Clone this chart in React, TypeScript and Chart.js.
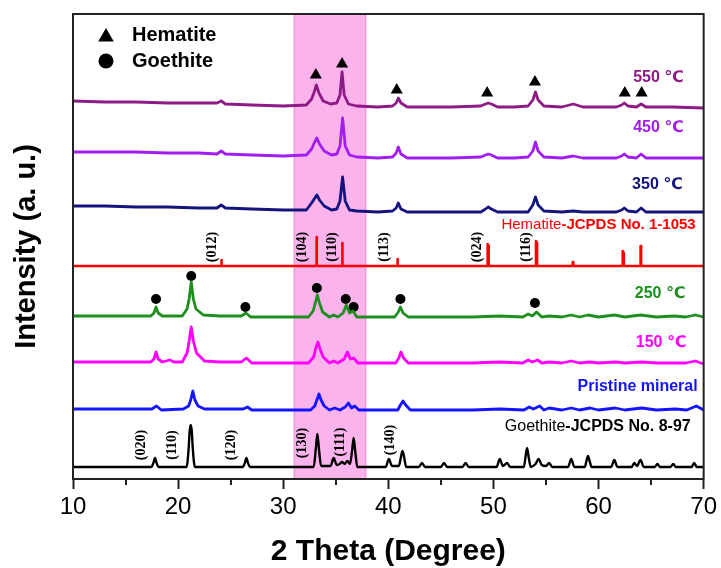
import React, { useEffect, useRef } from "react";
import { Chart, registerables } from "chart.js";
Chart.register(...registerables);

type Pt = [number, number];

// ---------- axis ----------
const xMin = 10;
const xMax = 70;
const xMajorStep = 10;
const minorTicks = [15, 25, 35, 45, 55, 65];
const yMin = 0;
const yMax = 465;
const band: Pt = [31.0, 37.9];

// ---------- series (2θ, stacked intensity a.u.) ----------
const trace550: Pt[] = [
  [10, 378], [13, 377], [16, 377], [19, 376], [22, 376], [23.7, 376], [24.1, 378], [24.5, 375], [27, 374], [30, 373],
  [32.2, 374], [32.7, 380], [32.95, 387], [33.15, 394], [33.4, 386], [33.8, 378], [34.5, 375], [35.1, 376], [35.4, 384],
  [35.6, 407], [35.8, 384], [36.2, 375], [37, 373], [39, 372], [40.4, 373], [40.75, 376], [40.95, 381], [41.2, 376],
  [41.8, 372], [44, 372], [46, 372], [48.8, 373], [49.25, 375], [49.5, 376], [49.8, 375], [50.4, 372], [52, 372],
  [53.3, 373], [53.75, 379], [54.0, 387], [54.25, 379], [54.8, 373], [56.5, 372], [57.6, 375], [58.5, 372], [61.7, 372],
  [62.2, 374], [62.45, 376], [62.8, 373], [63.6, 372], [64.05, 375], [64.5, 372], [67, 372], [70, 371],
];
const trace450: Pt[] = [
  [10, 327], [13, 327], [16, 327], [19, 326], [22, 326], [23.7, 325], [24.1, 328], [24.5, 325], [27, 324], [30, 323],
  [32.2, 324], [32.7, 330], [32.95, 336], [33.2, 341], [33.45, 335], [33.9, 328], [34.6, 324], [35.1, 325], [35.4, 333],
  [35.65, 361], [35.9, 333], [36.3, 324], [37, 322], [39, 321], [40.4, 322], [40.75, 326], [40.95, 332], [41.2, 325],
  [41.8, 321], [44, 321], [46, 321], [48.8, 322], [49.25, 324], [49.5, 325], [49.8, 324], [50.4, 321], [52, 321],
  [53.3, 322], [53.75, 328], [54.0, 337], [54.25, 328], [54.8, 322], [56.5, 321], [57.6, 323], [58.5, 321], [61.7, 321],
  [62.2, 323], [62.45, 325], [62.8, 322], [63.6, 321], [64.05, 325], [64.5, 321], [67, 321], [70, 321],
];
const trace350: Pt[] = [
  [10, 273], [13, 273], [16, 272], [19, 272], [22, 271], [23.7, 271], [24.1, 274], [24.5, 271], [27, 270], [30, 269],
  [32.2, 269], [32.7, 276], [32.95, 280], [33.2, 284], [33.45, 279], [33.9, 273], [34.6, 269], [35.1, 270], [35.4, 278],
  [35.65, 302], [35.9, 278], [36.3, 269], [37, 268], [39, 267], [40.4, 268], [40.75, 271], [40.95, 276], [41.2, 270],
  [41.8, 267], [44, 267], [46, 267], [48.8, 267], [49.25, 270], [49.5, 272], [49.8, 270], [50.4, 267], [52, 267],
  [53.3, 267], [53.75, 274], [54.0, 282], [54.25, 274], [54.8, 268], [56.5, 267], [57.6, 268], [58.5, 267], [61.7, 267],
  [62.2, 269], [62.45, 271], [62.8, 268], [63.6, 267], [64.05, 271], [64.5, 267], [67, 267], [70, 267],
];
const hematiteRef: Pt[] = [
  [10, 213], [24.1, 213], [24.1, 219], [24.15, 219], [24.15, 213], [33.15, 213], [33.15, 242], [33.2, 242], [33.2, 213],
  [35.6, 213], [35.6, 236], [35.65, 236], [35.65, 213], [40.85, 213], [40.85, 220], [40.9, 220], [40.9, 213],
  [49.45, 213], [49.45, 235], [49.55, 233], [49.55, 213], [54.05, 213], [54.05, 238], [54.15, 236], [54.15, 213],
  [57.55, 213], [57.55, 217], [57.6, 217], [57.6, 213], [62.3, 213], [62.3, 228], [62.4, 226], [62.4, 213],
  [64.0, 213], [64.0, 233], [64.05, 233], [64.05, 213], [70, 213],
];
const trace250: Pt[] = [
  [10, 163], [13, 163], [16, 163], [17.4, 163], [17.7, 166], [17.9, 172], [18.1, 166], [18.5, 163], [20.4, 163],
  [20.85, 170], [21.05, 180], [21.25, 197], [21.45, 180], [21.7, 170], [22.4, 164], [24, 163], [26.0, 163], [26.45, 166],
  [26.9, 162], [29, 162], [32.4, 162], [32.85, 168], [33.05, 176], [33.25, 184], [33.45, 176], [33.75, 167], [34.4, 162],
  [34.8, 164], [35.2, 162], [35.7, 166], [36.0, 174], [36.3, 166], [36.65, 168], [37.0, 162], [38, 162], [40.6, 162],
  [40.95, 167], [41.15, 172], [41.4, 166], [41.9, 162], [45, 162], [48, 162], [50.6, 163], [52.8, 162], [53.3, 165],
  [53.7, 163], [54.1, 167], [54.6, 162], [55.3, 163], [56.5, 162], [57.4, 164], [58.2, 162], [59.0, 164], [60, 162],
  [61.5, 164], [62.5, 162], [64.0, 164], [65.5, 162], [67.2, 163], [68.3, 162], [69.2, 164], [70, 162],
];
const trace150: Pt[] = [
  [10, 117], [13, 117], [16, 117], [17.4, 117], [17.7, 120], [17.9, 127], [18.1, 120], [18.5, 117], [19.2, 119],
  [19.6, 117], [20.4, 117], [20.85, 126], [21.05, 138], [21.25, 152], [21.45, 138], [21.75, 126], [22.5, 118], [24, 117],
  [26.0, 117], [26.5, 121], [27.0, 116], [29, 116], [32.4, 116], [32.9, 122], [33.1, 131], [33.3, 137], [33.5, 130],
  [33.8, 122], [34.4, 116], [34.8, 118], [35.2, 116], [35.8, 120], [36.1, 127], [36.4, 120], [36.7, 121], [37.1, 116],
  [38, 116], [40.7, 116], [41.0, 121], [41.2, 127], [41.45, 121], [41.9, 116], [45, 116], [48, 116], [50.6, 117],
  [52.8, 116], [53.3, 119], [53.7, 117], [54.2, 119], [54.6, 116], [55.3, 117], [56.5, 116], [57.4, 118], [58.2, 116],
  [59.2, 117], [60, 116], [61.6, 117], [62.5, 116], [64.1, 117], [65.5, 116], [67.2, 116], [68.3, 116], [69.2, 118], [70, 115],
];
const tracePristine: Pt[] = [
  [10, 70], [13, 70], [16, 70], [17.5, 70], [17.95, 73], [18.4, 69], [20.5, 70], [21.0, 73], [21.2, 79], [21.4, 88],
  [21.6, 79], [21.9, 73], [22.5, 70], [24, 70], [26.2, 70], [26.6, 72], [27.0, 69], [29, 69], [32.6, 69], [33.0, 73],
  [33.2, 79], [33.4, 85], [33.6, 79], [33.9, 73], [34.4, 69], [34.9, 71], [35.4, 69], [35.9, 72], [36.2, 76], [36.5, 71],
  [36.8, 73], [37.2, 69], [38, 69], [40.9, 69], [41.15, 74], [41.4, 78], [41.65, 74], [42.1, 69], [45, 69], [48, 69],
  [50.6, 70], [52.9, 69], [53.4, 72], [53.8, 70], [54.4, 73], [54.8, 69], [55.3, 71], [56.5, 69], [57.4, 71], [58.2, 69],
  [59.2, 71], [60, 69], [61.6, 71], [62.5, 69], [64.1, 71], [65.5, 69], [67.3, 70], [68.4, 69], [69.3, 73], [70, 69],
];
const goethiteRef: Pt[] = [
  [10, 12], [17.45, 12], [17.65, 16], [17.8, 21], [17.95, 16], [18.15, 12], [20.8, 12], [21.0, 30], [21.1, 48], [21.2, 54],
  [21.3, 48], [21.4, 30], [21.6, 12], [26.15, 12], [26.35, 16], [26.5, 21], [26.65, 16], [26.85, 12], [32.9, 12],
  [33.1, 30], [33.25, 45], [33.4, 30], [33.6, 13], [34.5, 13], [34.8, 21], [35.1, 14], [35.35, 15], [35.6, 17],
  [35.85, 15], [36.1, 18], [36.35, 15], [36.55, 28], [36.7, 41], [36.85, 28], [37.05, 12], [39.75, 12], [40.05, 20],
  [40.35, 13], [41.0, 13], [41.2, 22], [41.35, 28], [41.5, 22], [41.7, 12], [42.9, 12], [43.2, 16], [43.5, 12],
  [45.0, 12], [45.3, 16], [45.6, 12], [47.05, 12], [47.35, 16], [47.65, 12], [50.3, 12], [50.6, 20], [50.9, 13],
  [51.3, 16], [51.6, 12], [52.9, 12], [53.05, 22], [53.2, 31], [53.35, 22], [53.55, 12], [54.0, 15], [54.3, 20],
  [54.6, 14], [55.0, 13], [55.3, 16], [55.6, 12], [57.1, 12], [57.4, 20], [57.7, 12], [58.7, 12], [58.85, 18], [59.0, 23],
  [59.15, 18], [59.35, 12], [61.2, 12], [61.5, 19], [61.8, 12], [63.15, 12], [63.4, 16], [63.65, 13], [64.0, 19],
  [64.3, 12], [65.35, 12], [65.6, 15], [65.85, 12], [66.85, 12], [67.1, 15], [67.35, 12], [68.85, 12], [69.1, 16],
  [69.35, 12], [70, 12],
];

// ---------- phase markers ----------
const hematiteMarks: Pt[] = [
  [33.1, 404], [35.6, 415], [40.8, 389], [49.4, 386], [53.95, 397], [62.5, 386], [64.1, 386],
];
const goethiteMarks: Pt[] = [
  [17.9, 180], [21.25, 203], [26.4, 172], [33.2, 191], [35.95, 180], [36.7, 172], [41.15, 180], [53.95, 176],
];

// ---------- texts ----------
const legendNames = ["Hematite", "Goethite"];
// [regular part, bold part]
const seriesTexts: [string, string][] = [
  ["", "550 ℃"],
  ["", "450 ℃"],
  ["", "350 ℃"],
  ["Hematite", "-JCPDS No. 1-1053"],
  ["", "250 ℃"],
  ["", "150 ℃"],
  ["", "Pristine mineral"],
  ["Goethite", "-JCPDS No. 8-97"],
];
const seriesTextAnchors: Pt[] = [
  [68.1, 401], [68.1, 351], [68.0, 294], [69.24, 254], [68.25, 185], [68.35, 136], [69.43, 92], [68.77, 52],
];
const seriesColors = ["#8E1A86", "#A21EF0", "#14147E", "#FF0000", "#1E8E1E", "#FF00FF", "#1414FF", "#000000"];
const hematiteHkl = ["(012)", "(104)", "(110)", "(113)", "(024)", "(116)"];
const hematiteHklAnchors: Pt[] = [[23.27, 232], [31.8, 232], [34.64, 232], [39.67, 232], [48.48, 232], [53.13, 232]];
const goethiteHkl = ["(020)", "(110)", "(120)", "(130)", "(111)", "(140)"];
const goethiteHklAnchors: Pt[] = [[16.51, 34], [19.5, 34], [25.04, 34], [31.83, 36], [35.4, 37], [40.2, 39]];

const SANS = "'Liberation Sans', Arial, 'DejaVu Sans', sans-serif";
const SERIF = "'Liberation Serif', 'Times New Roman', serif";

const toXY = (p: Pt[]) => p.map(([x, y]) => ({ x, y }));

function drawTriangle(ctx: CanvasRenderingContext2D, x: number, y: number, r: number) {
  ctx.beginPath();
  for (let i = 0; i < 3; i++) {
    const a = (i * 2 * Math.PI) / 3;
    const px = x + Math.sin(a) * r;
    const py = y - Math.cos(a) * r;
    if (i === 0) ctx.moveTo(px, py);
    else ctx.lineTo(px, py);
  }
  ctx.closePath();
  ctx.fill();
}

const decorPlugin = {
  id: "decor",
  beforeDatasetsDraw(chart: any) {
    const { ctx, chartArea: a, scales } = chart;
    const x0 = scales.x.getPixelForValue(band[0]);
    const x1 = scales.x.getPixelForValue(band[1]);
    ctx.save();
    ctx.fillStyle = "#FBB3EB";
    ctx.fillRect(x0, a.top, x1 - x0, a.bottom - a.top);
    ctx.strokeStyle = "#EE8ADB";
    ctx.lineWidth = 1;
    ctx.beginPath();
    ctx.moveTo(x0 + 0.5, a.top);
    ctx.lineTo(x0 + 0.5, a.bottom);
    ctx.moveTo(x1 - 0.5, a.top);
    ctx.lineTo(x1 - 0.5, a.bottom);
    ctx.stroke();
    ctx.restore();
  },
  afterDatasetsDraw(chart: any) {
    const { ctx, chartArea: a, scales } = chart;
    const X = (v: number) => scales.x.getPixelForValue(v);
    const Y = (v: number) => scales.y.getPixelForValue(v);
    ctx.save();
    // legend
    ctx.fillStyle = "#000";
    drawTriangle(ctx, a.left + 33, a.top + 23, 9);
    ctx.beginPath();
    ctx.arc(a.left + 33, a.top + 47, 7.5, 0, Math.PI * 2);
    ctx.fill();
    ctx.font = `bold 20px ${SANS}`;
    ctx.textAlign = "left";
    ctx.textBaseline = "middle";
    ctx.fillText(legendNames[0], a.left + 59, a.top + 21);
    ctx.fillText(legendNames[1], a.left + 59, a.top + 47);

    // series labels
    seriesTexts.forEach(([reg, bold], i) => {
      const [ax, ay] = seriesTextAnchors[i];
      const size = i === 3 ? 15 : 16;
      const fReg = `${size}px ${SANS}`;
      const fBold = `bold ${size}px ${SANS}`;
      ctx.font = fReg;
      const wReg = reg ? ctx.measureText(reg).width : 0;
      ctx.font = fBold;
      const wBold = ctx.measureText(bold).width;
      const right = X(ax);
      const y = Y(ay);
      ctx.fillStyle = seriesColors[i];
      ctx.textAlign = "left";
      ctx.textBaseline = "middle";
      let sx = right - wReg - wBold;
      if (reg) {
        ctx.font = fReg;
        ctx.fillText(reg, sx, y);
        sx += wReg;
      }
      ctx.font = fBold;
      ctx.fillText(bold, sx, y);
    });

    // hkl labels
    ctx.fillStyle = "#000";
    ctx.font = `bold 14px ${SERIF}`;
    ctx.textAlign = "center";
    ctx.textBaseline = "middle";
    const drawRot = (t: string, p: Pt) => {
      ctx.save();
      ctx.translate(X(p[0]), Y(p[1]));
      ctx.rotate(-Math.PI / 2);
      ctx.fillText(t, 0, 0);
      ctx.restore();
    };
    hematiteHkl.forEach((t, i) => drawRot(t, hematiteHklAnchors[i]));
    goethiteHkl.forEach((t, i) => drawRot(t, goethiteHklAnchors[i]));
    ctx.restore();
  },
  afterDraw(chart: any) {
    const { ctx, chartArea: a, scales } = chart;
    ctx.save();
    ctx.strokeStyle = "#222";
    ctx.lineWidth = 2;
    ctx.strokeRect(a.left, a.top, a.right - a.left, a.bottom - a.top);
    ctx.beginPath();
    minorTicks.forEach((v) => {
      const px = Math.round(scales.x.getPixelForValue(v));
      ctx.moveTo(px, a.bottom);
      ctx.lineTo(px, a.bottom + 6);
    });
    ctx.stroke();
    ctx.restore();
  },
};

const lineSet = (label: string, data: Pt[], color: string, width = 2.8, smooth = false) => ({
  type: "line" as const,
  label,
  data: toXY(data),
  borderColor: color,
  backgroundColor: color,
  borderWidth: width,
  pointRadius: 0,
  tension: smooth ? 0.4 : 0,
  cubicInterpolationMode: smooth ? ("monotone" as const) : ("default" as const),
  borderJoinStyle: "round" as const,
  fill: false,
});

export default function App() {
  const ref = useRef<HTMLCanvasElement | null>(null);
  useEffect(() => {
    if (!ref.current) return;
    const chart = new Chart(ref.current, {
      type: "line",
      data: {
        datasets: [
          lineSet("550 ℃", trace550, seriesColors[0]),
          lineSet("450 ℃", trace450, seriesColors[1]),
          lineSet("350 ℃", trace350, seriesColors[2]),
          lineSet("Hematite-JCPDS No. 1-1053", hematiteRef, seriesColors[3], 2.6),
          lineSet("250 ℃", trace250, seriesColors[4]),
          lineSet("150 ℃", trace150, seriesColors[5]),
          lineSet("Pristine mineral", tracePristine, seriesColors[6]),
          lineSet("Goethite-JCPDS No. 8-97", goethiteRef, seriesColors[7], 2.4, true),
          {
            type: "line" as const,
            label: "Hematite",
            data: toXY(hematiteMarks),
            showLine: false,
            pointStyle: "triangle",
            pointRadius: 7,
            pointBorderWidth: 0,
            pointBackgroundColor: "#000",
            borderColor: "#000",
            backgroundColor: "#000",
          },
          {
            type: "line" as const,
            label: "Goethite",
            data: toXY(goethiteMarks),
            showLine: false,
            pointStyle: "circle",
            pointRadius: 5,
            pointBorderWidth: 0,
            pointBackgroundColor: "#000",
            borderColor: "#000",
            backgroundColor: "#000",
          },
        ],
      },
      options: {
        animation: false,
        responsive: false,
        devicePixelRatio: 1,
        layout: { padding: { top: 14, right: 15, left: 0, bottom: 0 } },
        plugins: { legend: { display: false }, tooltip: { enabled: false } },
        scales: {
          x: {
            type: "linear",
            min: xMin,
            max: xMax,
            afterFit: (s: any) => {
              s.height = 89;
            },
            ticks: {
              stepSize: xMajorStep,
              color: "#000",
              padding: 4,
              font: { size: 24, family: SANS },
            },
            grid: {
              drawOnChartArea: false,
              drawTicks: true,
              tickLength: 10,
              tickWidth: 2,
              tickColor: "#222",
            },
            border: { display: true, color: "#222", width: 2 },
            title: {
              display: true,
              text: "2 Theta (Degree)",
              color: "#000",
              font: { size: 30, weight: "bold", family: SANS, lineHeight: 1.1 },
              padding: { top: 0, bottom: 0 },
            },
          },
          y: {
            type: "linear",
            min: yMin,
            max: yMax,
            afterFit: (s: any) => {
              s.width = 73;
            },
            ticks: { display: false },
            grid: { display: false },
            border: { display: true, color: "#222", width: 2 },
            title: {
              display: true,
              text: "Intensity (a. u.)",
              color: "#000",
              font: { size: 29, weight: "bold", family: SANS },
              padding: { top: 10, bottom: 0 },
            },
          },
        },
      },
      plugins: [decorPlugin],
    } as any);
    return () => chart.destroy();
  }, []);
  return (
    <div style={{ position: "fixed", left: 0, top: 0, width: 721, height: 568, background: "#fff" }}>
      <canvas ref={ref} width={721} height={568} />
    </div>
  );
}
